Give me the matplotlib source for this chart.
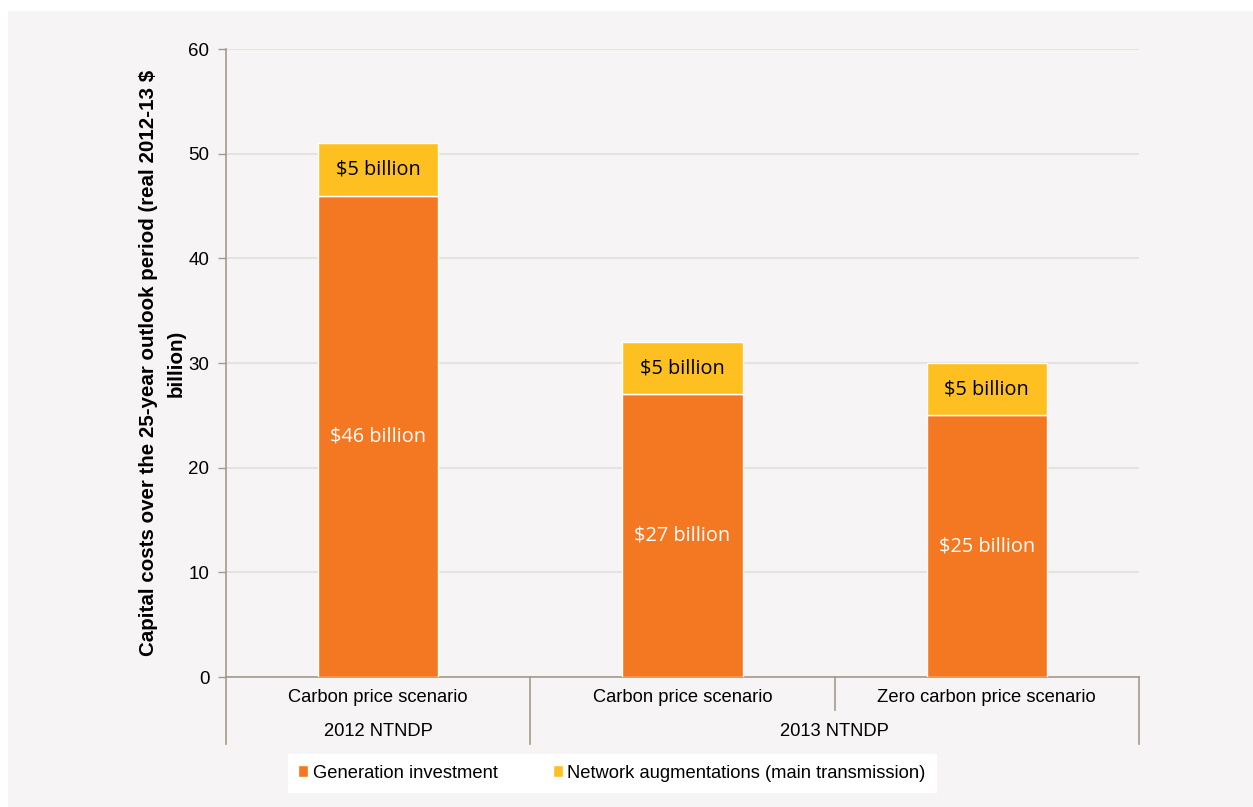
import matplotlib
matplotlib.use("Agg")
import matplotlib.pyplot as plt
from matplotlib.patches import Rectangle
import matplotlib.transforms as mtransforms

# Data
scenarios = ["Carbon price scenario", "Carbon price scenario", "Zero carbon price scenario"]
groups = ["2012 NTNDP", "2013 NTNDP"]
group_sizes = [1, 2]
generation = [46, 27, 25]
network = [5, 5, 5]
series_names = ["Generation investment", "Network augmentations (main transmission)"]
yticks = [0, 10, 20, 30, 40, 50, 60]

ORANGE = "#F47721"
YELLOW = "#FDC020"
BG = "#F6F4F4"
AXIS = "#A49A8A"
GRID = "#E6E3DF"

W, H = 1253, 807
fig = plt.figure(figsize=(W / 100, H / 100), dpi=100, facecolor="white")
fig.patches.append(Rectangle((8 / W, 0), 1 - 8 / W, 1 - 11 / H,
                             transform=fig.transFigure, facecolor=BG,
                             edgecolor="none", zorder=-10))

ax = fig.add_axes([226 / W, 1 - 677 / H, (1139 - 226) / W, (677 - 49) / H])
ax.patch.set_alpha(0)

x = list(range(len(scenarios)))
width = 0.395
b1 = ax.bar(x, generation, width, color=ORANGE, edgecolor="white", linewidth=1,
            label=series_names[0], zorder=3)
b2 = ax.bar(x, network, width, bottom=generation, color=YELLOW, edgecolor="white",
            linewidth=1, label=series_names[1], zorder=3)

label_font = dict(family=["Open Sans", "DejaVu Sans"], fontsize=14.3)
for xi, g, n in zip(x, generation, network):
    ax.text(xi, g / 2, f"${g} billion", ha="center", va="center", color="white",
            zorder=4, **label_font)
    ax.text(xi, g + n / 2, f"${n} billion", ha="center", va="center", color="black",
            zorder=4, **label_font)

ax.set_xlim(-0.5, len(scenarios) - 0.5)
ax.set_ylim(0, 60)
ax.set_yticks(yticks)
ax.yaxis.grid(True, color=GRID, linewidth=1.5, zorder=0)
ax.set_axisbelow(True)

for s in ["top", "right"]:
    ax.spines[s].set_visible(False)
for s in ["left", "bottom"]:
    ax.spines[s].set_color(AXIS)
    ax.spines[s].set_linewidth(1.2)

ax.tick_params(axis="y", direction="out", length=6, color=AXIS, width=1,
               labelsize=13.5, pad=6)
ax.tick_params(axis="x", length=0, labelbottom=False)
for lab in ax.get_yticklabels():
    lab.set_family(["Liberation Sans", "DejaVu Sans"])

ax.set_ylabel("Capital costs over the 25-year outlook period (real 2012-13 $\nbillion)",
              fontsize=14.8, fontweight="bold", family=["Liberation Sans", "DejaVu Sans"],
              labelpad=2, linespacing=1.55)

# Two-level category axis
trans = mtransforms.blended_transform_factory(ax.transData, ax.transAxes)
row1_y = -(698 - 677) / 628
row2_y = -(731 - 677) / 628
short_y = -(710 - 677) / 628
long_y = -(744 - 677) / 628
txt = dict(family=["Liberation Sans", "DejaVu Sans"], fontsize=13.2, ha="center",
           va="center", transform=trans)
for xi, name in zip(x, scenarios):
    ax.text(xi, row1_y, name, **txt)

edges = [-0.5]
start = -0.5
for gname, size in zip(groups, group_sizes):
    end = start + size
    ax.text((start + end) / 2, row2_y, gname, **txt)
    edges.append(end)
    start = end

for i in range(len(scenarios) + 1):
    xe = i - 0.5
    ylow = long_y if xe in edges else short_y
    ax.plot([xe, xe], [0, ylow], color=AXIS, linewidth=1.2, transform=trans,
            clip_on=False)

leg = fig.legend(handles=[b1, b2], labels=series_names, loc="center",
                 bbox_to_anchor=(612 / W, 1 - 773 / H), ncol=2, frameon=True,
                 fancybox=False, edgecolor="white", facecolor="white",
                 framealpha=1, handlelength=0.55, handleheight=0.55,
                 handletextpad=0.25, columnspacing=3.0, borderpad=0.55,
                 borderaxespad=0,
                 prop={"family": "Liberation Sans", "size": 13.2})

fig.savefig("out.png", dpi=100, facecolor="white")
